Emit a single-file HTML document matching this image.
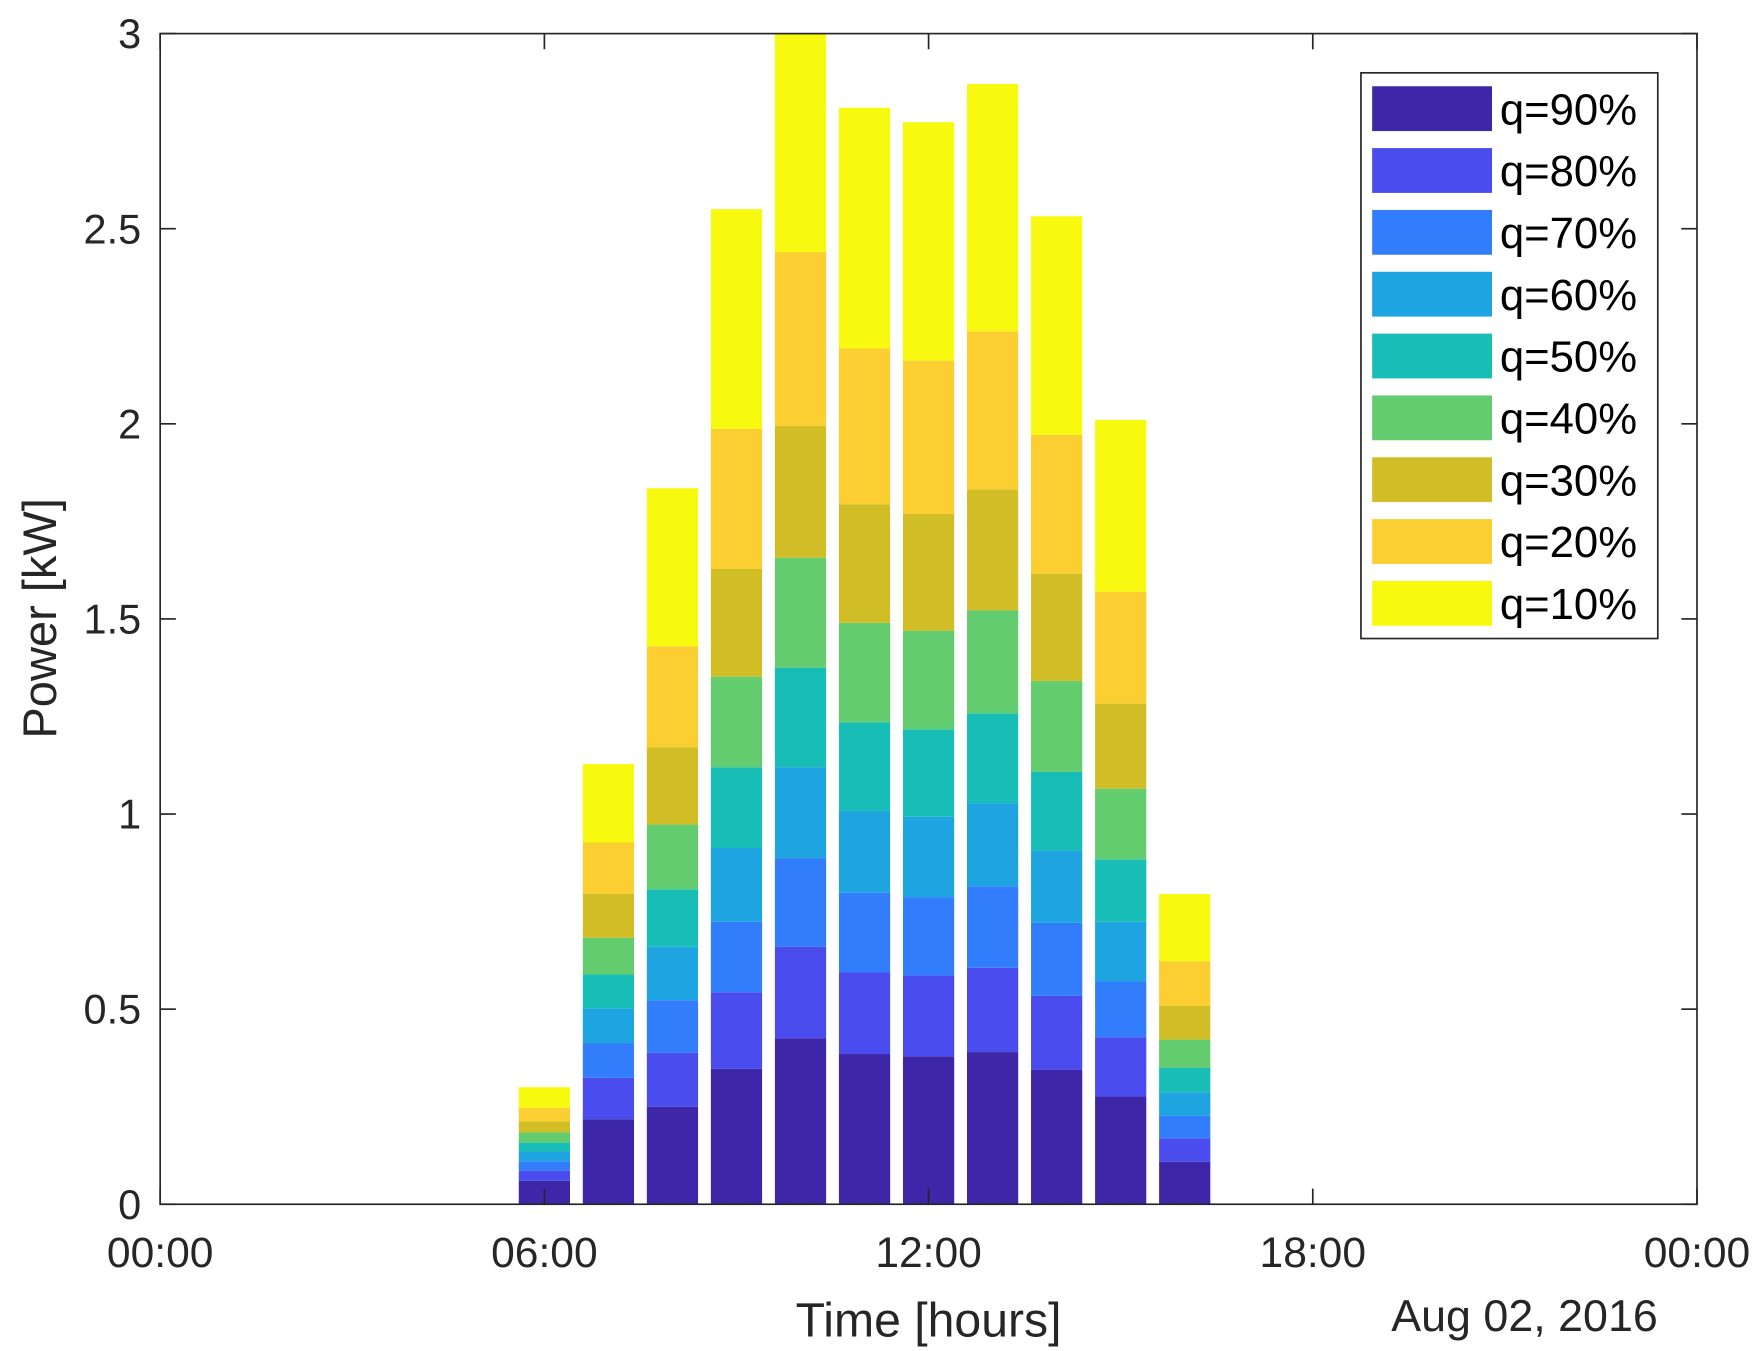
<!DOCTYPE html>
<html><head><meta charset="utf-8"><style>
html,body{margin:0;padding:0;background:#fff}
svg{display:block}
text{font-family:"Liberation Sans",Arial,sans-serif;fill:#262626}
</style></head><body>
<svg id="chart" width="1753" height="1351" viewBox="0 0 1565 1206" preserveAspectRatio="none" xmlns="http://www.w3.org/2000/svg">
<g id="bars"></g>
<g id="axes"></g>
<g id="legend"></g>
</svg>
<script>
const hours = [6,7,8,9,10,11,12,13,14,15,16];
const q90 = [0.06,0.218,0.25,0.347,0.425,0.385,0.379,0.39,0.345,0.276,0.109];
const q80 = [0.086,0.324,0.388,0.543,0.66,0.594,0.586,0.606,0.534,0.428,0.169];
const q70 = [0.11,0.413,0.523,0.724,0.887,0.798,0.787,0.815,0.721,0.571,0.227];
const q60 = [0.135,0.502,0.66,0.913,1.12,1.008,0.993,1.028,0.907,0.724,0.287];
const q50 = [0.158,0.589,0.807,1.12,1.375,1.235,1.217,1.258,1.108,0.884,0.35];
const q40 = [0.184,0.683,0.973,1.352,1.657,1.49,1.47,1.522,1.341,1.065,0.422];
const q30 = [0.212,0.795,1.171,1.628,1.995,1.794,1.769,1.832,1.616,1.283,0.508];
const q20 = [0.247,0.927,1.43,1.987,2.44,2.193,2.162,2.237,1.972,1.57,0.623];
const q10 = [0.30,1.128,1.835,2.55,3.0,2.81,2.773,2.871,2.532,2.01,0.795];
const seriesNames = ["q=90%","q=80%","q=70%","q=60%","q=50%","q=40%","q=30%","q=20%","q=10%"];
const yTicks = [0,0.5,1,1.5,2,2.5,3];
const yTickLabels = ["0","0.5","1","1.5","2","2.5","3"];
const xTicks = [0,6,12,18,24];
const xTickLabels = ["00:00","06:00","12:00","18:00","00:00"];

const series=[q90,q80,q70,q60,q50,q40,q30,q20,q10];
const colors=["#3d26a8","#4a4ced","#327dfb","#1ea4e0","#18bdb5","#62cc6e","#d1be27","#fbce31","#f7f90f"];
const L=143,R=1515,T=30,B=1075;
const X=h=>L+(R-L)*h/24;
const Y=v=>B-(B-T)*v/3;
const NS="http://www.w3.org/2000/svg";
function mk(tag,attrs,parent){const e=document.createElementNS(NS,tag);for(const k in attrs)e.setAttribute(k,attrs[k]);parent.appendChild(e);return e;}
const bars=document.getElementById('bars');
const bw=(X(0.8)-X(0));
hours.forEach((h,i)=>{
  let prev=0;
  series.forEach((s,j)=>{
    const top=s[i];
    const r=mk('rect',{x:X(h)-bw/2,y:Y(top),width:bw,height:Y(prev)-Y(top),fill:colors[j]},bars);
    
    
    prev=top;
  });
});
const ax=document.getElementById('axes');
const box=mk('rect',{x:L,y:T,width:R-L,height:B-T,fill:'none',stroke:'#262626','stroke-width':1.5},ax);


yTicks.forEach((v,i)=>{
  mk('line',{x1:L,x2:L+14,y1:Y(v),y2:Y(v),stroke:'#262626','stroke-width':1.5},ax);
  mk('line',{x1:R,x2:R-14,y1:Y(v),y2:Y(v),stroke:'#262626','stroke-width':1.5},ax);
  const t=mk('text',{x:L-17,y:Y(v)+13,'text-anchor':'end','font-size':37},ax);
  t.textContent=yTickLabels[i];
  
  
});
xTicks.forEach((h,i)=>{
  mk('line',{x1:X(h),x2:X(h),y1:B,y2:B-14,stroke:'#262626','stroke-width':1.5},ax);
  mk('line',{x1:X(h),x2:X(h),y1:T,y2:T+14,stroke:'#262626','stroke-width':1.5},ax);
  const t=mk('text',{x:X(h),y:B+56,'text-anchor':'middle','font-size':38},ax);
  t.textContent=xTickLabels[i];
  
  
});
let t=mk('text',{x:829,y:1193,'text-anchor':'middle','font-size':43},ax);
t.textContent='Time [hours]';


t=mk('text',{x:1480,y:1188,'text-anchor':'end','font-size':40},ax);
t.textContent='Aug 02, 2016';


t=mk('text',{x:50,y:552,'text-anchor':'middle','font-size':42,transform:'rotate(-90 50 552)'},ax);
t.textContent='Power [kW]';


const lg=document.getElementById('legend');
const lb=mk('rect',{x:1215,y:65,width:265,height:505,fill:'#fff',stroke:'#262626','stroke-width':1.5},lg);


seriesNames.forEach((n,j)=>{
  const y=77+j*55.2;
  const s=mk('rect',{x:1225,y:y,width:107,height:40,fill:colors[j]},lg);
  
  
  const tx=mk('text',{x:1339,y:y+34,'font-size':39,style:'fill:#000'},lg);
  tx.textContent=n;
  
  
});
</script>
</body></html>
